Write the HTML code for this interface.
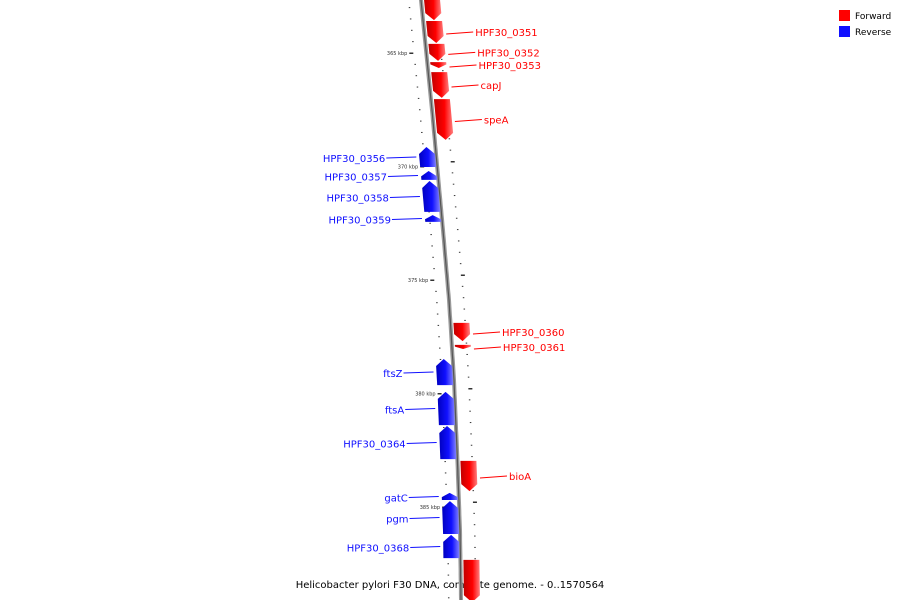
<!DOCTYPE html>
<html><head><meta charset="utf-8">
<style>
body{margin:0;background:#fff;}
svg{display:block;font-family:"DejaVu Sans","Liberation Sans",sans-serif;}
</style></head>
<body>
<svg id="c" width="900" height="600" viewBox="0 0 900 600">
<defs>
<linearGradient id="gr" x1="0" x2="1" y1="0" y2="0"><stop offset="0" stop-color="#c00000"/><stop offset="0.55" stop-color="#ff0000"/><stop offset="1" stop-color="#ff8080"/></linearGradient>
<linearGradient id="gb" x1="0" x2="1" y1="0" y2="0"><stop offset="0" stop-color="#0000c0"/><stop offset="0.55" stop-color="#1010ff"/><stop offset="1" stop-color="#8080ff"/></linearGradient>
</defs>
<g id="legend">
<rect x="839" y="10" width="11" height="11" fill="#ff0000"/>
<text x="855" y="19" font-size="9" fill="#000">Forward</text>
<rect x="839" y="26" width="11" height="11" fill="#1010ff"/>
<text x="855" y="35" font-size="9" fill="#000">Reverse</text>
</g>
<text x="450" y="588" font-size="10" text-anchor="middle" fill="#000">Helicobacter pylori F30 DNA, complete genome. - 0..1570564</text>
</svg>
<script>
const geneNames=["","HPF30_0351","HPF30_0352","HPF30_0353","capJ","speA","HPF30_0356","HPF30_0357","HPF30_0358","HPF30_0359","HPF30_0360","HPF30_0361","ftsZ","ftsA","HPF30_0364","bioA","gatC","pgm","HPF30_0368",""];
const geneStarts=[362.6,363.59,364.60,365.40,365.84,367.03,369.14,370.20,370.64,372.14,376.89,377.86,378.48,379.93,381.43,382.97,384.38,384.74,386.23,387.33];
const geneEnds=[363.55,364.56,365.35,365.66,366.98,368.83,370.02,370.59,372.00,372.44,377.69,378.04,379.63,381.39,382.89,384.30,384.69,386.19,387.25,389.2];
const geneStrands=[1,1,1,1,1,1,-1,-1,-1,-1,1,1,-1,-1,-1,1,-1,-1,-1,1];
const tickKbp=[365,370,375,380,385];

const S='http://www.w3.org/2000/svg',svg=document.getElementById('c');
function yOf(k){return 53+(k-365)*22.7;}
const ax=[[0,421],[110,432],[230,443],[300,449],[380,454],[450,457],[530,460],[600,461]];
function xOf(y){for(let i=1;i<ax.length;i++){if(y<=ax[i][0]){const a=ax[i-1],b=ax[i];return a[1]+(b[1]-a[1])*(y-a[0])/(b[0]-a[0]);}}return 461;}
function el(t,a){const e=document.createElementNS(S,t);for(const k in a)e.setAttribute(k,a[k]);svg.appendChild(e);return e;}
// axis
let p='';for(let y=-5;y<=605;y+=5)p+=(p?'L':'M')+xOf(y).toFixed(1)+','+y;
const axl=el('path',{d:p,stroke:'#9a9a9a','stroke-width':4,fill:'none'});


const axd=el('path',{d:p,stroke:'#555','stroke-width':1.2,fill:'none'});


// minor ticks
for(let k=362.5;k<=389;k+=0.5){const y=yOf(k);if(y<0||y>600)continue;const x=xOf(y);
 const major=Math.abs(k-Math.round(k/5)*5)<0.01;
 const t1=el('rect',{x:x-(major?17:13),y:y-0.5,width:major?4:1.5,height:major?1.5:1,fill:'#333'});
 
 
 const yr=y-5;const t2=el('rect',{x:xOf(yr)+(major?14:14),y:yr-0.5,width:major?4:1.5,height:major?1.5:1,fill:'#333'});
 
 }
tickKbp.forEach(k=>{const y=yOf(k);const t=el('text',{x:xOf(y)-19,y:y+2,'font-size':5,'text-anchor':'end',fill:'#333'});t.textContent=k+' kbp';
 
 });
// genes
geneNames.forEach((n,i)=>{const s=geneStrands[i];const y0=yOf(geneStarts[i]),y1=yOf(geneEnds[i]);
 const len=y1-y0,h=Math.min(7,len*0.6);const o1=s>0?3:-17,o2=s>0?19:-1;
 let pts;
 if(s>0){const yb=y1-h;pts=[[xOf(y0)+o1,y0],[xOf(y0)+o2,y0],[xOf(yb)+o2,yb],[xOf(y1)+(o1+o2)/2,y1],[xOf(yb)+o1,yb]];}
 else{const yt=y0+h;pts=[[xOf(y0)+(o1+o2)/2,y0],[xOf(yt)+o2,yt],[xOf(y1)+o2,y1],[xOf(y1)+o1,y1],[xOf(yt)+o1,yt]];}
 const g=el('polygon',{points:pts.map(q=>q[0].toFixed(1)+','+q[1].toFixed(1)).join(' '),fill:s>0?'url(#gr)':'url(#gb)'});
 
 
 if(!n)return;
 const ym=(y0+y1)/2,col=s>0?'#ff0000':'#1010ff';
 if(s>0){const gx=xOf(ym)+o2+3,lx=gx+27;
  const l=el('line',{x1:gx,y1:ym+2,x2:lx,y2:ym,stroke:col,'stroke-width':1});
  
  
  const t=el('text',{x:lx+2,y:ym+4,'font-size':10,fill:col});t.textContent=n;
  
  }
 else{const gx=xOf(ym)+o1-3,lx=gx-30;
  const l=el('line',{x1:gx,y1:ym,x2:lx,y2:ym+1,stroke:col,'stroke-width':1});
  
  
  const t=el('text',{x:lx-1,y:ym+5,'font-size':10,fill:col,'text-anchor':'end'});t.textContent=n;
  
  }
});
</script>
</body></html>
